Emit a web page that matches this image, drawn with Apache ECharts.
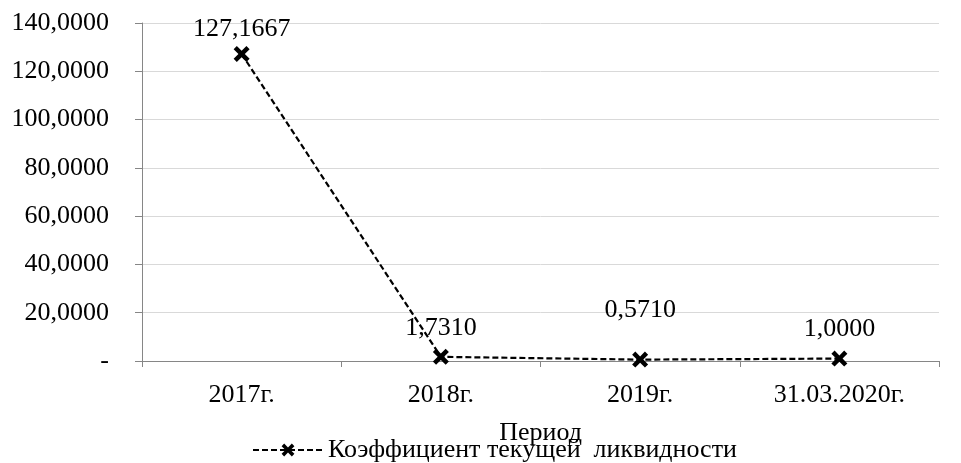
<!DOCTYPE html>
<html><head><meta charset="utf-8">
<script src="https://cdn.jsdelivr.net/npm/echarts@6/dist/echarts.min.js"></script>
<style>html,body{margin:0;padding:0;background:#fff}#c{width:961px;height:463px}</style>
</head><body><div id="c"></div>
<script>
var categories = ['2017г.', '2018г.', '2019г.', '31.03.2020г.'];
var values = [127.1667, 1.7310, 0.5710, 1.0000];
var seriesName = 'Коэффициент текущей  ликвидности';
var axisName = 'Период';
var yTicks = [0, 20, 40, 60, 80, 100, 120, 140];

var FONT = "'Liberation Serif', 'Times New Roman', serif";
function fmt(v){ return v === 0 ? '-' : v.toFixed(4).replace('.', ','); }
var xPath = 'path://M0,2 L2,0 L5,3 L8,0 L10,2 L7,5 L10,8 L8,10 L5,7 L2,10 L0,8 L3,5 Z';
var labelShift = [4, 0, -20, 0];

var data = values.map(function(v, i){
  return { value: v, label: { offset: [0, labelShift[i]] } };
});

var chart = echarts.init(document.getElementById('c'));
chart.setOption({
  animation: false,
  grid: { left: 142, right: 22, top: 23, bottom: 102 },
  legend: {
    left: 247, top: 432, itemWidth: 70, itemHeight: 16, itemGap: 6,
    textStyle: { fontFamily: FONT, fontSize: 26, color: '#000' },
    data: [seriesName]
  },
  xAxis: {
    type: 'category', data: categories,
    name: axisName, nameLocation: 'middle', nameGap: 59,
    nameTextStyle: { fontFamily: FONT, fontSize: 26, color: '#000' },
    axisLine: { lineStyle: { color: '#868686', width: 1 } },
    axisTick: { show: true, length: 6, lineStyle: { color: '#868686' } },
    axisLabel: { fontFamily: FONT, fontSize: 26, color: '#000', margin: 21 }
  },
  yAxis: {
    type: 'value', min: yTicks[0], max: yTicks[yTicks.length-1], interval: 20,
    axisLine: { show: true, lineStyle: { color: '#868686', width: 1 } },
    axisTick: { show: true, length: 7, lineStyle: { color: '#868686' } },
    splitLine: { lineStyle: { color: '#d9d9d9', width: 1 } },
    axisLabel: { fontFamily: FONT, fontSize: 26, color: '#000', margin: 33, formatter: fmt }
  },
  series: [{
    type: 'line', name: seriesName, data: data,
    symbol: xPath, symbolSize: 16,
    itemStyle: { color: '#000' },
    lineStyle: { color: '#000', width: 2.2, type: [6, 3] },
    label: { show: true, position: 'top', distance: 8, fontFamily: FONT, fontSize: 26, color: '#000', formatter: function(p){ return fmt(p.value); } }
  }]
});
</script></body></html>
